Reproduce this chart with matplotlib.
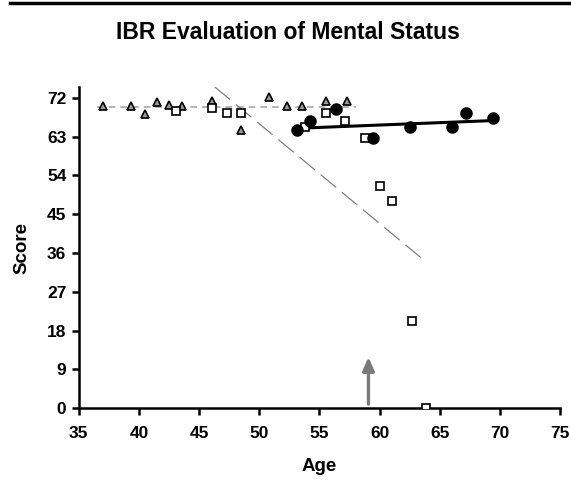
import matplotlib.pyplot as plt

plt.rcParams['font.family'] = ['Liberation Sans', 'DejaVu Sans']
plt.rcParams['font.weight'] = 'bold'

# triangles (grey)
tri_age = [36.97, 39.3, 40.49, 41.51, 42.51, 43.56, 46.03, 48.44, 50.82, 52.32, 53.51, 55.53, 57.28]
tri_score = [69.97, 69.97, 68.3, 71.0, 70.2, 70.0, 71.3, 64.6, 72.2, 70.0, 70.0, 71.3, 71.3]

# open squares
sq_age = [43.06, 46.03, 47.33, 48.52, 53.79, 55.53, 57.15, 58.77, 60.02, 61.0, 62.7, 63.82]
sq_score = [69.0, 69.6, 68.4, 68.4, 65.3, 68.4, 66.6, 62.6, 51.6, 48.1, 20.2, 0.0]

# filled circles
circ_age = [53.12, 54.24, 56.36, 59.46, 62.51, 65.98, 67.17, 69.44]
circ_score = [64.6, 66.5, 69.4, 62.6, 65.3, 65.3, 68.4, 67.4]

# trend lines (end points)
tri_fit_x = [36.5, 58.0]
tri_fit_y = [69.9, 69.9]
sq_fit_x = [46.3, 63.82]
sq_fit_y = [74.5, 34.0]
circ_fit_x = [53.1, 69.4]
circ_fit_y = [64.9, 66.7]

arrow_x = 59.07
arrow_y = [0.3, 12.5]

fig = plt.figure(figsize=(5.71, 4.83), dpi=100)
ax = fig.add_axes([0.138, 0.155, 0.843, 0.665])

ax.plot(tri_fit_x, tri_fit_y, color='#a8a8a8', lw=1.2, ls=(0, (4, 3)), zorder=1)
ax.plot(sq_fit_x, sq_fit_y, color='#808080', lw=0.9, ls=(0, (16, 6)), zorder=1)
ax.plot(circ_fit_x, circ_fit_y, color='black', lw=2.2, zorder=2)

ax.plot(tri_age, tri_score, ls='none', marker='^', ms=6.2, mfc='#9a9a9a', mec='black', mew=1.2, zorder=3)
ax.plot(sq_age, sq_score, ls='none', marker='s', ms=5.5, mfc='white', mec='black', mew=1.2, zorder=4)
ax.plot(circ_age, circ_score, ls='none', marker='o', ms=8, color='black', zorder=5)

ax.annotate('', xy=(arrow_x, arrow_y[1]), xytext=(arrow_x, arrow_y[0]),
            arrowprops=dict(arrowstyle='-|>,head_width=0.35,head_length=0.8', color='#7a7a7a', lw=2.4))

ax.set_xlim(35, 75)
ax.set_ylim(0, 74.5)
ax.set_xticks(range(35, 76, 5))
ax.set_yticks(range(0, 73, 9))
for s in ['top', 'right']:
    ax.spines[s].set_visible(False)
for s in ['left', 'bottom']:
    ax.spines[s].set_linewidth(1.8)
ax.tick_params(axis='both', width=1.8, length=5, labelsize=12.5, pad=4)
ax.tick_params(axis='x', pad=8)

ax.set_xlabel('Age', fontsize=13.5, fontweight='bold', labelpad=12)
ax.set_ylabel('Score', fontsize=13.5, fontweight='bold', labelpad=12)

fig.text(0.505, 0.932, 'IBR Evaluation of Mental Status', ha='center', va='center',
         fontsize=16.5, fontweight='bold')
fig.add_artist(plt.Line2D([0.018, 1.0], [0.994, 0.994], color='black', lw=2.5))

fig.savefig('out.png', dpi=100)
